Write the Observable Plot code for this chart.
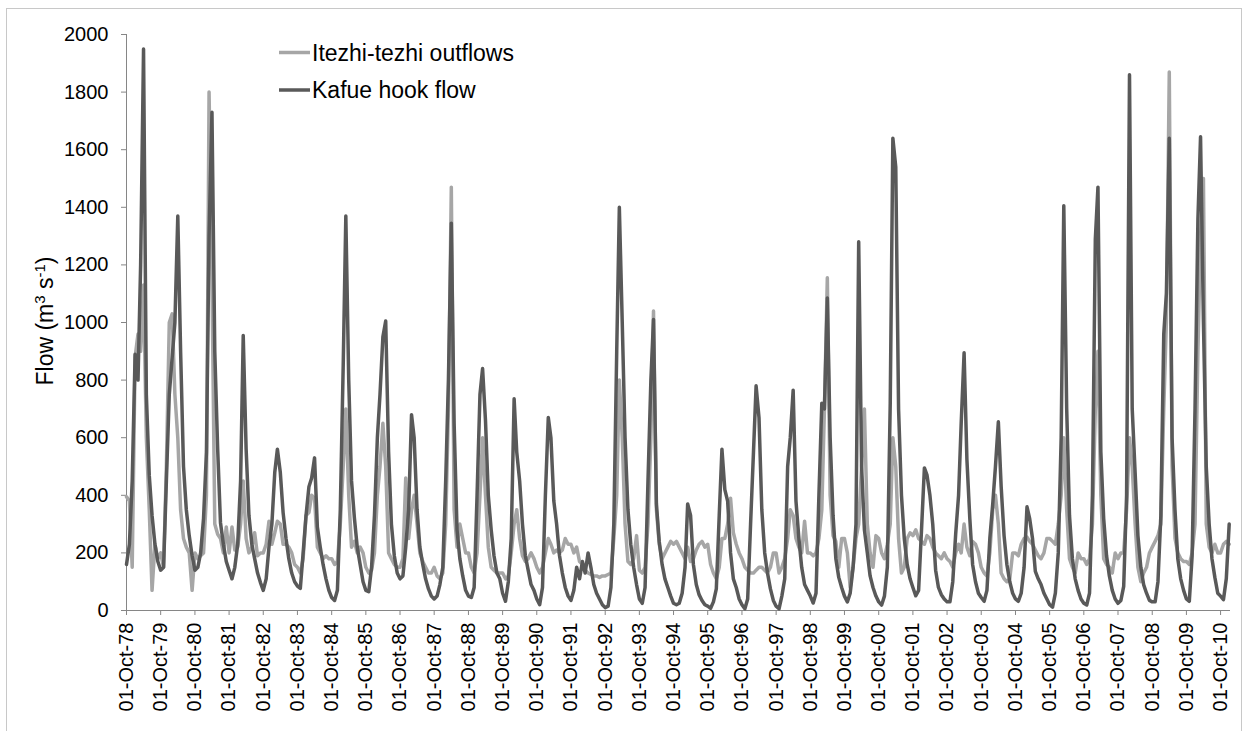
<!DOCTYPE html>
<html>
<head>
<meta charset="utf-8">
<script src="https://cdn.jsdelivr.net/npm/d3@7"></script>
<script src="https://cdn.jsdelivr.net/npm/@observablehq/plot@0.6"></script>
<style>
  html, body { margin: 0; padding: 0; background: #fff; }
  #wrap { position: relative; width: 1246px; height: 731px; overflow: hidden; font-family: "Liberation Sans", Arial, sans-serif; }
  #frame { position: absolute; left: 6px; top: 8px; width: 1236px; height: 740px; border: 1px solid #c8c8c8; box-sizing: border-box; }
  #chart { position: absolute; left: 0; top: 0; }
</style>
</head>
<body>
<div id="wrap"><div id="frame"></div><div id="chart"></div></div>
<script>
// Monthly values (1st of each month) starting 1 Oct 1978, water years Oct..Sep
const seriesNames = ["Itezhi-tezhi outflows", "Kafue hook flow"];
const firstMonth = "1978-10-01";

const itezhiOutflows = [
  395, 380, 150, 880, 960, 900, 1130, 600, 350, 70, 230, 180,   // 78/79
  200, 150, 500, 1000, 1030, 750, 600, 350, 250, 220, 200, 70,  // 79/80
  200, 180, 190, 200, 400, 1800, 1150, 300, 265, 250, 200, 290, // 80/81
  200, 290, 210, 220, 300, 450, 250, 200, 220, 270, 190, 200,   // 81/82
  200, 230, 310, 230, 270, 310, 300, 230, 230, 220, 200, 160,   // 82/83
  150, 130, 180, 330, 340, 400, 390, 220, 200, 180, 190, 180,   // 83/84
  180, 160, 170, 300, 500, 700, 400, 220, 240, 200, 220, 200,   // 84/85
  150, 130, 140, 200, 400, 500, 650, 500, 200, 180, 160, 150,   // 85/86
  150, 180, 460, 250, 350, 400, 300, 200, 170, 150, 130, 130,   // 86/87
  150, 120, 110, 130, 300, 700, 1470, 350, 220, 300, 250, 200,  // 87/88
  200, 150, 130, 200, 400, 600, 400, 220, 150, 140, 130, 130,   // 88/89
  130, 110, 120, 200, 300, 350, 250, 190, 170, 180, 200, 180,   // 89/90
  150, 130, 150, 200, 250, 230, 200, 210, 200, 210, 250, 230,   // 90/91
  230, 200, 220, 170, 160, 140, 130, 125, 120, 120, 115, 120,   // 91/92
  120, 125, 130, 250, 400, 800, 600, 300, 170, 160, 180, 260,   // 92/93
  140, 130, 150, 300, 600, 1040, 350, 230, 180, 200, 220, 240,  // 93/94
  230, 240, 220, 200, 180, 220, 170, 180, 210, 230, 240, 220,   // 94/95
  230, 160, 130, 110, 150, 250, 250, 300, 390, 270, 230, 200,   // 95/96
  180, 150, 140, 130, 130, 140, 150, 150, 140, 130, 150, 200,   // 96/97
  200, 130, 150, 180, 250, 350, 330, 250, 220, 200, 310, 200,   // 97/98
  200, 190, 200, 250, 350, 700, 1155, 400, 260, 240, 150, 250,  // 98/99
  250, 200, 80, 150, 250, 300, 500, 700, 300, 200, 150, 260,    // 99/00
  250, 200, 180, 230, 300, 600, 500, 250, 130, 150, 250, 270,   // 00/01
  260, 280, 250, 240, 230, 260, 250, 220, 200, 190, 180, 200,   // 01/02
  180, 170, 150, 200, 230, 200, 300, 220, 190, 240, 230, 200,   // 02/03
  150, 130, 120, 200, 350, 400, 300, 130, 110, 100, 110, 200,   // 03/04
  200, 190, 230, 250, 255, 240, 230, 210, 190, 180, 200, 250,   // 04/05
  250, 240, 230, 300, 400, 600, 350, 180, 150, 130, 200, 180,   // 05/06
  180, 160, 180, 300, 700, 900, 400, 180, 160, 150, 130, 200,   // 06/07
  180, 200, 200, 350, 600, 500, 300, 150, 100, 130, 150, 200,   // 07/08
  220, 240, 260, 300, 700, 1000, 1870, 500, 250, 200, 180, 170, // 08/09
  170, 160, 200, 300, 900, 1300, 1500, 300, 220, 200, 230, 200, // 09/10
  200, 230, 240, 230                                            // 10/11
];

const kafueHookFlow = [
  160, 230, 450, 890, 800, 1200, 1950, 750, 470, 330, 230, 170, // 78/79
  140, 150, 450, 750, 880, 1000, 1370, 900, 500, 350, 260, 190, // 79/80
  140, 150, 200, 320, 550, 1300, 1730, 900, 560, 305, 230, 170, // 80/81
  140, 110, 150, 230, 450, 955, 560, 330, 230, 180, 130, 97,    // 81/82
  70, 110, 220, 300, 480, 560, 480, 340, 250, 180, 130, 100,    // 82/83
  85, 77, 200, 330, 430, 460, 530, 290, 220, 160, 110, 70,      // 83/84
  45, 35, 70, 350, 850, 1370, 800, 450, 320, 220, 160, 100,     // 84/85
  70, 65, 150, 330, 600, 750, 950, 1005, 550, 300, 190, 130,    // 85/86
  110, 120, 220, 350, 680, 600, 350, 220, 160, 110, 75, 50,     // 86/87
  40, 50, 90, 150, 450, 800, 1345, 650, 280, 180, 120, 70,      // 87/88
  50, 45, 80, 400, 750, 840, 660, 400, 280, 190, 130, 110,      // 88/89
  60, 32, 100, 250, 735, 550, 450, 300, 190, 140, 90, 70,       // 89/90
  40, 20, 80, 400, 670, 600, 380, 300, 190, 130, 80, 50,        // 90/91
  35, 70, 150, 110, 170, 130, 200, 150, 90, 60, 40, 20,         // 91/92
  10, 15, 80, 300, 900, 1400, 1000, 600, 350, 230, 150, 90,     // 92/93
  40, 25, 80, 450, 800, 1010, 370, 240, 160, 110, 80, 50,       // 93/94
  25, 20, 25, 60, 150, 370, 330, 160, 90, 55, 35, 20,           // 94/95
  15, 8, 30, 75, 330, 560, 420, 380, 200, 110, 80, 40,          // 95/96
  20, 6, 40, 300, 550, 780, 670, 350, 200, 130, 75, 35,         // 96/97
  15, 6, 50, 110, 500, 600, 765, 380, 250, 150, 90, 70,         // 97/98
  50, 26, 60, 400, 720, 700, 1085, 600, 330, 180, 115, 80,      // 98/99
  50, 30, 60, 150, 300, 1280, 500, 280, 200, 120, 80, 50,       // 99/00
  30, 19, 50, 150, 720, 1640, 1540, 700, 400, 250, 160, 110,    // 00/01
  80, 51, 70, 280, 495, 470, 400, 300, 140, 80, 55, 40,         // 01/02
  30, 30, 100, 265, 400, 650, 895, 525, 320, 160, 100, 60,      // 02/03
  45, 32, 70, 250, 370, 500, 655, 430, 260, 160, 100, 60,       // 03/04
  40, 32, 60, 150, 360, 320, 250, 136, 110, 90, 60, 40,         // 04/05
  20, 12, 60, 200, 600, 1405, 700, 330, 180, 110, 70, 40,       // 05/06
  25, 19, 60, 400, 1290, 1470, 550, 320, 190, 120, 70, 40,      // 06/07
  25, 35, 84, 400, 1860, 700, 480, 260, 150, 90, 60, 35,        // 07/08
  30, 30, 100, 330, 960, 1100, 1640, 600, 350, 180, 110, 70,    // 08/09
  40, 32, 190, 700, 1360, 1645, 1000, 500, 300, 180, 115, 60,   // 09/10
  50, 38, 110, 300                                              // 10/11
];

const tickYears = d3.range(1978, 2011);
const yTicks = d3.range(0, 2001, 200);
const colors = ["#a6a6a6", "#595959"];

const start = new Date(firstMonth + "T00:00:00Z");
const toRows = arr => arr.map((v, i) => ({date: d3.utcMonth.offset(start, i), value: v}));
const itezhiRows = toRows(itezhiOutflows);
const kafueRows = toRows(kafueHookFlow);
const tickDates = tickYears.map(y => new Date(Date.UTC(y, 9, 1)));

const font = "'Liberation Sans', Arial, sans-serif";
const plot = Plot.plot({
  width: 1246,
  height: 731,
  marginLeft: 126,
  marginRight: 16,
  marginTop: 34,
  marginBottom: 121,
  style: {fontFamily: font, fontSize: "20px", color: "#000", background: "transparent"},
  x: {type: "utc", domain: [start, new Date(Date.UTC(2011, 0, 15))]},
  y: {domain: [0, 2000]},
  marks: [
    Plot.axisY({ticks: yTicks, tickFormat: d => String(d), tickSize: 5, tickPadding: 13, fontSize: 20, label: null, stroke: "#868686", fill: "#000"}),
    Plot.axisX({ticks: tickDates, tickFormat: d3.utcFormat("%d-%b-%y"), tickRotate: -90, tickSize: 5, tickPadding: 7, fontSize: 20, label: null, stroke: "#868686", fill: "#000"}),
    Plot.ruleX([start], {stroke: "#868686", strokeWidth: 1}),
    Plot.ruleY([0], {stroke: "#868686", strokeWidth: 1}),
    Plot.line(itezhiRows, {x: "date", y: "value", stroke: colors[0], strokeWidth: 3.5, strokeLinejoin: "round"}),
    Plot.line(kafueRows, {x: "date", y: "value", stroke: colors[1], strokeWidth: 3.5, strokeLinejoin: "round"})
  ]
});
document.getElementById("chart").appendChild(plot);

// Y-axis title and legend
const svg = d3.select(plot);
const title = svg.append("text")
  .attr("transform", "translate(53,321) rotate(-90)")
  .attr("text-anchor", "middle")
  .attr("font-family", font)
  .attr("font-size", 23)
  .attr("fill", "#000");
title.append("tspan").text("Flow (m");
title.append("tspan").attr("baseline-shift", "super").attr("font-size", 15).text("3");
title.append("tspan").text(" s");
title.append("tspan").attr("baseline-shift", "super").attr("font-size", 15).text("-1");
title.append("tspan").text(")");

const legend = svg.append("g").attr("font-family", font).attr("font-size", 23).attr("text-anchor", "start");
seriesNames.forEach((name, i) => {
  const yy = 52.5 + i * 37.5;
  legend.append("line").attr("x1", 279).attr("x2", 310).attr("y1", yy).attr("y2", yy)
    .attr("stroke", colors[i]).attr("stroke-width", 3.5);
  legend.append("text").attr("x", 312).attr("y", yy + 8).attr("text-anchor", "start").attr("fill", "#000").text(name);
});
</script>
</body>
</html>
